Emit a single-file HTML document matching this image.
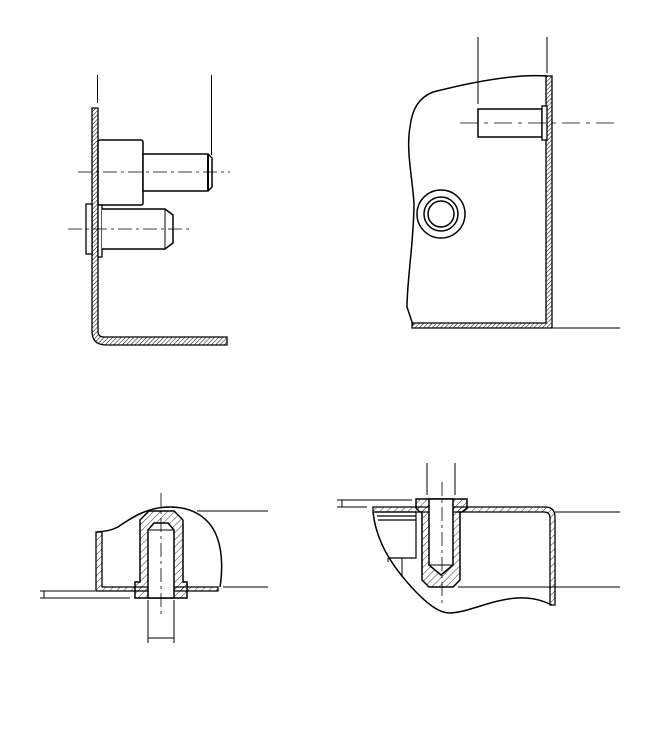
<!DOCTYPE html>
<html><head><meta charset="utf-8"><style>html,body{margin:0;padding:0;background:#fff}svg{display:block}</style></head>
<body>
<svg width="650" height="750" viewBox="0 0 650 750" xmlns="http://www.w3.org/2000/svg">
<defs>
<pattern id="h" width="3" height="3" patternUnits="userSpaceOnUse" patternTransform="rotate(45)"><line x1="0" y1="0" x2="0" y2="3" stroke="#000" stroke-width="1"/></pattern>
<pattern id="h2" width="5" height="5" patternUnits="userSpaceOnUse" patternTransform="rotate(45)"><line x1="0" y1="0" x2="0" y2="5" stroke="#000" stroke-width="0.8"/></pattern>
</defs>
<g fill="none" stroke="#000" stroke-width="1">
<!-- Q1 -->
<line x1="97.5" y1="75" x2="97.5" y2="103"/>
<line x1="211.5" y1="75" x2="211.5" y2="155"/>
<path d="M92 108 V331 Q92 345 106 345 H227 V337 H104 Q98 337 98 331 V108 Z" fill="url(#h)" stroke-width="1.3"/>
<rect x="98" y="140" width="45" height="65" rx="2" fill="#fff" stroke-width="1.5"/>
<path d="M143 154 H208 L212 158 V187 L208 191 H143 Z" fill="#fff" stroke-width="1.5"/>
<line x1="208" y1="154" x2="208" y2="191" stroke-width="2"/>
<rect x="86" y="204" width="6" height="50" fill="#fff" stroke-width="1.3"/>
<rect x="98" y="205" width="4" height="52" fill="#fff" stroke-width="1.3"/>
<path d="M102 209 H165 L173 215 V243 L165 249 H102" fill="#fff" stroke-width="1.5"/>
<line x1="165" y1="209" x2="165" y2="249"/>
<line x1="78" y1="172" x2="230" y2="172" stroke-dasharray="14,4,3,4" stroke-width="0.8"/>
<line x1="68" y1="229" x2="191" y2="229" stroke-dasharray="14,4,3,4" stroke-width="0.8"/>
<!-- Q2 -->
<line x1="478" y1="37" x2="478" y2="104"/>
<line x1="547" y1="37" x2="547" y2="73"/>
<path d="M547 76 C520 74 480 80 433 92 C418 98 412 110 410 127 C406 150 412 175 414 203 C414 240 407 280 407 307 L413 325" stroke-width="1.5"/>
<path d="M546 76 H552 V328 H412 V323 H546 Z" fill="url(#h)" stroke-width="1.3"/>
<rect x="478" y="109" width="64" height="28" fill="#fff" stroke-width="1.5"/>
<rect x="542" y="106" width="5" height="34" fill="#fff" stroke-width="1.3"/>
<line x1="460" y1="123" x2="620" y2="123" stroke-dasharray="18,6,4,6" stroke-width="0.8"/>
<circle cx="441" cy="214" r="24" stroke-width="1.5"/>
<circle cx="441" cy="214" r="17" stroke-width="1.5"/>
<circle cx="441" cy="214" r="13" stroke-width="1.5"/>
<line x1="552" y1="328" x2="620" y2="328"/>
<!-- Q3 -->
<path d="M97 532 C105 531 110 531 118 527 C135 515 150 507 170 507 C195 507 212 520 218 540 C223 555 222 575 220 587" stroke-width="1.5"/>
<line x1="197" y1="511" x2="268" y2="511"/>
<line x1="223" y1="587" x2="268" y2="587"/>
<path d="M96 532 H102 V587 H218 V591 H96 Z" fill="url(#h2)" stroke-width="1.3"/>
<path d="M140 520 L149 511 L174 511 L183 520 V582 H187 V598 H135 V582 H140 Z" fill="url(#h2)" stroke-width="1.5"/>
<path d="M148 598 V530 L154 523 L168 523 L174 530 V598 Z" fill="#fff" stroke-width="1.5"/>
<line x1="148" y1="530" x2="174" y2="530"/>
<line x1="161" y1="493" x2="161" y2="615" stroke-dasharray="14,4,3,4" stroke-width="0.8"/>
<line x1="148" y1="600" x2="148" y2="643"/>
<line x1="174" y1="600" x2="174" y2="643"/>
<line x1="148" y1="638" x2="174" y2="638"/>
<line x1="40" y1="591" x2="95" y2="591"/>
<line x1="40" y1="598" x2="130" y2="598"/>
<line x1="44" y1="591" x2="44" y2="598"/>
<!-- Q4 -->
<line x1="427" y1="463" x2="427" y2="495"/>
<line x1="455" y1="463" x2="455" y2="495"/>
<line x1="337" y1="500" x2="412" y2="500"/>
<line x1="337" y1="507" x2="367" y2="507"/>
<line x1="342" y1="500" x2="342" y2="507"/>
<path d="M373 507 H545 Q555 507 555 517 V605 H550 V518 Q550 512 544 512 H373 Z" fill="url(#h2)" stroke-width="1.3"/>
<path d="M373 512 C376 540 390 565 417 593 C430 606 440 613 450 613 C470 612 490 600 517 598 C535 597 545 602 552 605" stroke-width="1.5"/>
<path d="M375 512 H416 V558 H388 M377 516 H416 M378 520 H416" stroke-width="1.2"/>
<line x1="402" y1="558" x2="402" y2="577"/>
<line x1="388" y1="558" x2="388" y2="562"/>
<path d="M416 499 H467 V508 L462 512 H460 V580 L453 587 H429 L422 580 V512 H420 L416 508 Z" fill="url(#h2)" stroke-width="1.5"/>
<path d="M429 499 V565 L441 575 L453 565 V499 Z" fill="#fff" stroke-width="1.5"/>
<line x1="429" y1="565" x2="453" y2="565"/>
<line x1="442" y1="482" x2="442" y2="607" stroke-dasharray="14,4,3,4" stroke-width="0.8"/>
<line x1="458" y1="587" x2="620" y2="587"/>
<line x1="555" y1="512" x2="620" y2="512"/>
</g>
</svg>
</body></html>
